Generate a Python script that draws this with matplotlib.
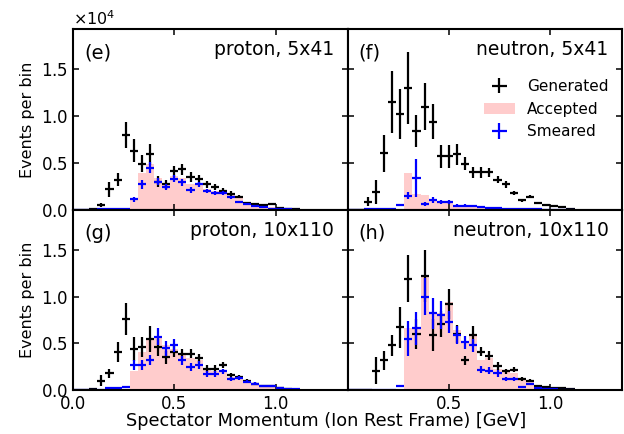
import numpy as np
import matplotlib
matplotlib.use('Agg')
import matplotlib.pyplot as plt

# bin grid, 0.04 GeV bins
edges = np.arange(0.0, 1.1201, 0.04)
centers = 0.5 * (edges[:-1] + edges[1:])
half_width = 0.02

# (e) proton, 5x41
e_gen = [0, 0, 20, 500, 2200, 3200, 8000, 6300, 4900, 5900, 3000, 2700, 4100, 4300,
         3500, 3300, 2700, 2400, 2000, 1700, 1400, 700, 600, 500, 600, 200, 100, 50]
e_gen_err = [0, 0, 20, 200, 800, 700, 1400, 1200, 900, 1100, 600, 500, 600, 600,
             500, 450, 400, 350, 300, 300, 200, 150, 150, 120, 150, 80, 50, 30]
e_acc = [0, 0, 0, 0, 0, 0, 0, 1200, 3900, 4900, 3400, 2700, 3600, 3400,
         2700, 2800, 2200, 2000, 1950, 1600, 1300, 800, 600, 400, 250, 100, 50, 20]
e_smr = [0, 0, 0, 20, 30, 30, 30, 1100, 2700, 4500, 3000, 2400, 3300, 2900,
         2100, 2700, 2000, 1800, 1800, 1300, 850, 600, 400, 250, 100, 50, 20, 10]
e_smr_err = [0, 0, 0, 20, 30, 30, 30, 300, 500, 600, 400, 350, 400, 350,
             300, 300, 250, 200, 200, 150, 120, 100, 80, 50, 30, 20, 10, 10]

# (f) neutron, 5x41
f_gen = [0, 0, 850, 1900, 6000, 11500, 10200, 13000, 8400, 11000, 9400, 5700, 5700, 5900,
         4900, 4000, 4000, 4000, 3200, 2700, 1800, 1000, 1400, 700, 500, 350, 250, 100]
f_gen_err = [0, 0, 500, 1300, 2000, 3300, 2700, 3800, 1700, 2500, 1900, 1200, 1200, 1100,
             700, 600, 600, 500, 400, 350, 200, 150, 150, 100, 80, 60, 40, 20]
f_acc = [0, 0, 0, 0, 0, 0, 0, 3900, 1700, 1600, 1000, 900, 800, 500,
         500, 400, 400, 300, 200, 200, 100, 100, 50, 50, 30, 20, 10, 0]
f_smr = [0, 0, 20, 30, 30, 30, 500, 1500, 3400, 600, 1000, 800, 800, 400,
         400, 350, 300, 200, 150, 100, 50, 50, 30, 20, 10, 10, 0, 0]
f_smr_err = [0, 0, 20, 30, 30, 30, 150, 400, 2000, 200, 300, 250, 250, 150,
             150, 120, 100, 80, 60, 50, 30, 30, 20, 10, 10, 10, 0, 0]

# (g) proton, 10x110
g_gen = [0, 30, 100, 1000, 1800, 4100, 7600, 4400, 4600, 5500, 4600, 3500, 4100, 3900,
         3900, 3400, 2300, 2300, 2700, 1600, 1400, 1000, 700, 400, 450, 250, 150, 70]
g_gen_err = [0, 30, 80, 600, 500, 1100, 1700, 1300, 1100, 1400, 900, 700, 600, 550,
             500, 450, 350, 350, 350, 250, 200, 150, 120, 80, 80, 50, 30, 20]
g_acc = [0, 0, 0, 0, 0, 0, 0, 2100, 4100, 5400, 5700, 4800, 4400, 3900,
         3400, 3200, 2300, 2100, 2100, 1400, 1350, 950, 700, 500, 450, 250, 150, 100]
g_smr = [0, 0, 0, 30, 250, 200, 350, 2700, 2700, 3200, 5700, 4500, 4800, 3200,
         2500, 2700, 1700, 1700, 2000, 1200, 1300, 900, 700, 450, 400, 250, 100, 150]
g_smr_err = [0, 0, 0, 20, 60, 60, 80, 500, 500, 550, 900, 800, 700, 500,
             400, 400, 300, 300, 300, 200, 200, 150, 120, 100, 80, 60, 30, 40]

# (h) neutron, 10x110
h_gen = [0, 0, 0, 2100, 3200, 4800, 6700, 11900, 6000, 12200, 5900, 7100, 9200, 6000,
         3200, 5900, 4100, 3700, 2600, 2000, 2200, 1200, 1000, 450, 350, 250, 180, 140]
h_gen_err = [0, 0, 0, 1400, 1000, 1100, 2200, 2500, 1600, 2800, 1700, 1400, 1600, 1000,
             500, 1000, 500, 500, 400, 300, 300, 200, 150, 100, 80, 60, 40, 30]
h_acc = [0, 0, 0, 0, 0, 0, 0, 6600, 6600, 12200, 8300, 8200, 9400, 6400,
         5100, 6000, 3200, 3400, 2300, 1950, 1800, 1100, 1000, 350, 300, 200, 150, 100]
h_smr = [0, 0, 0, 30, 30, 30, 400, 5500, 6600, 10000, 8200, 8000, 7300, 5900,
         5100, 4800, 2200, 2100, 1800, 1200, 1200, 350, 650, 180, 100, 100, 50, 20]
h_smr_err = [0, 0, 0, 20, 20, 20, 80, 1900, 1800, 2000, 1700, 1500, 1200, 1000,
             700, 700, 400, 400, 350, 250, 250, 120, 150, 60, 40, 40, 20, 10]

panels = [
    ('(e)', 'proton, 5x41', e_gen, e_gen_err, e_acc, e_smr, e_smr_err),
    ('(f)', 'neutron, 5x41', f_gen, f_gen_err, f_acc, f_smr, f_smr_err),
    ('(g)', 'proton, 10x110', g_gen, g_gen_err, g_acc, g_smr, g_smr_err),
    ('(h)', 'neutron, 10x110', h_gen, h_gen_err, h_acc, h_smr, h_smr_err),
]

plt.rcParams['font.size'] = 11.5
plt.rcParams['axes.linewidth'] = 1.5

fig, axes = plt.subplots(2, 2, figsize=(6.24, 4.34), dpi=100, sharex=True, sharey=True)
fig.subplots_adjust(left=0.117, right=0.997, top=0.933, bottom=0.101, wspace=0, hspace=0)

for ax, (tag, title, gen, gen_err, acc, smr, smr_err) in zip(axes.flat, panels):
    ax.stairs(acc, edges, fill=True, color='red', alpha=0.2, linewidth=0, label='Accepted')
    ax.errorbar(centers, gen, yerr=gen_err, xerr=half_width, fmt='none',
                ecolor='black', elinewidth=1.6, label='Generated')
    ax.errorbar(centers, smr, yerr=smr_err, xerr=half_width, fmt='none',
                ecolor='blue', elinewidth=1.6, label='Smeared')
    ax.text(0.04, 0.87, tag, transform=ax.transAxes, fontsize=14, ha='left', va='center')
    ax.text(0.95, 0.885, title, transform=ax.transAxes, fontsize=13.5, ha='right', va='center')
    ax.tick_params(direction='in', top=True, right=True, length=4.5, width=1.1, labelsize=12)
    ax.ticklabel_format(style='sci', axis='y', scilimits=(0, 0), useMathText=True)

ax = axes[0, 0]
ax.set_xlim(0, 1.355)
ax.set_ylim(0, 19300)
ax.set_xticks([0.0, 0.5, 1.0])
ax.set_yticks([0, 5000, 10000, 15000])

for a in [axes[0, 1], axes[1, 0], axes[1, 1]]:
    a.yaxis.get_offset_text().set_visible(False)

# right panel shows no 0.0 label at the shared border
fig.canvas.draw()
axes[1, 1].xaxis.get_major_ticks()[0].label1.set_visible(False)

axes[0, 0].set_ylabel('Events per bin')
axes[1, 0].set_ylabel('Events per bin')

h, l = axes[0, 1].get_legend_handles_labels()
order = [l.index('Generated'), l.index('Accepted'), l.index('Smeared')]
axes[0, 1].legend([h[i] for i in order], [l[i] for i in order], loc='upper right',
                  bbox_to_anchor=(1.0, 0.8), frameon=False, fontsize=11)

fig.text(0.522, 0.029, 'Spectator Momentum (Ion Rest Frame) [GeV]', ha='center', va='center',
         fontsize=12.7)

fig.savefig('out.png', dpi=100)
